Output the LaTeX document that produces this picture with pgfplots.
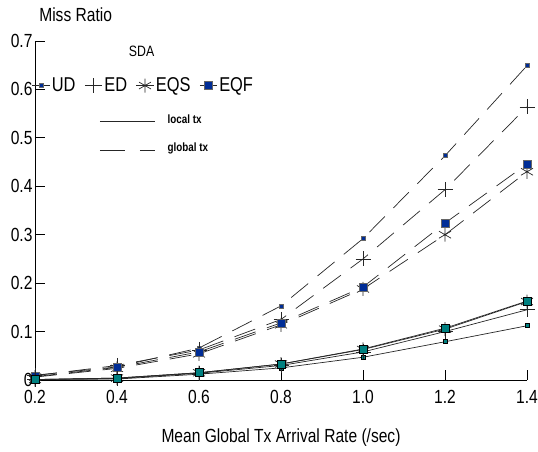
\documentclass[border=0pt]{standalone}
\usepackage{pgfplots}
\pgfplotsset{compat=1.18}
\usepackage{fontspec}
\setmainfont{Liberation Sans}[FakeStretch=0.82]
\definecolor{tealm}{RGB}{0,128,128}
\definecolor{bluem}{RGB}{0,45,150}
\begin{document}
\begin{tikzpicture}
\useasboundingbox (-35pt,-71pt) rectangle (503pt,380pt);
\begin{axis}[
  scale only axis, width=492pt, height=339pt,
  xmin=0.2, xmax=1.4, ymin=0, ymax=0.7,
  axis x line*=bottom, axis y line*=left,
  axis line style={line width=0.8pt, black},
  tick align=inside,
  major tick length=10pt,
  major tick style={line width=0.8pt, black},
  xtick={0.2,0.4,0.6,0.8,1.0,1.2,1.4},
  xticklabels={0.2,0.4,0.6,0.8,1.0,1.2,1.4},
  ytick={0,0.1,0.2,0.3,0.4,0.5,0.6,0.7},
  yticklabels={0,0.1,0.2,0.3,0.4,0.5,0.6,0.7},
  tick label style={font=\fontsize{19}{19}\selectfont},
  xticklabel style={yshift=-7pt},
  yticklabel style={xshift=1pt},
  clip=false,
  every axis plot/.append style={line width=0.7pt, black!85},
  legend columns=4,
  legend style={draw=none, fill=none, at={(axis cs:0.19,0.608)}, anchor=west,
    font=\fontsize{20}{20}\selectfont, column sep=0pt, inner xsep=1pt,
    /tikz/every even column/.append style={column sep=7pt}},
]
% global (dashed)
\addplot[dash pattern=on 22pt off 12pt, mark=square*, mark size=2pt, mark options={solid, fill=bluem, draw=black!60}] coordinates {(0.2,0.010)(0.4,0.027)(0.6,0.066)(0.8,0.153)(1.0,0.292)(1.2,0.463)(1.4,0.649)};
\addplot[dash pattern=on 22pt off 12pt, mark=+, mark size=7.5pt, mark options={solid}] coordinates {(0.2,0.009)(0.4,0.030)(0.6,0.062)(0.8,0.125)(1.0,0.250)(1.2,0.393)(1.4,0.564)};
\addplot[dash pattern=on 22pt off 12pt, mark=asterisk, mark size=7pt, mark options={solid}] coordinates {(0.2,0.006)(0.4,0.024)(0.6,0.054)(0.8,0.114)(1.0,0.188)(1.2,0.300)(1.4,0.430)};
\addplot[dash pattern=on 22pt off 12pt, mark=square*, mark size=4pt, mark options={solid, fill=bluem, draw=black!60}] coordinates {(0.2,0.007)(0.4,0.026)(0.6,0.058)(0.8,0.118)(1.0,0.192)(1.2,0.324)(1.4,0.446)};
% local (solid)
\addplot[mark=square*, mark size=2pt, mark options={fill=tealm, draw=black}] coordinates {(0.2,0.001)(0.4,0.002)(0.6,0.012)(0.8,0.025)(1.0,0.047)(1.2,0.079)(1.4,0.112)};
\addplot[mark=+, mark size=7.5pt] coordinates {(0.2,0.001)(0.4,0.003)(0.6,0.014)(0.8,0.030)(1.0,0.058)(1.2,0.100)(1.4,0.145)};
\addplot[mark=asterisk, mark size=7pt] coordinates {(0.2,0.001)(0.4,0.004)(0.6,0.015)(0.8,0.033)(1.0,0.063)(1.2,0.105)(1.4,0.162)};
\addplot[mark=square*, mark size=4pt, mark options={fill=tealm, draw=black}] coordinates {(0.2,0.001)(0.4,0.004)(0.6,0.015)(0.8,0.033)(1.0,0.064)(1.2,0.107)(1.4,0.163)};
% legend
\addlegendimage{legend image code/.code={\draw[line width=0.6pt,black!80] (0pt,0pt)--(10pt,0pt); \node[draw=black, fill=tealm, minimum size=3.5pt, inner sep=0pt, line width=0.4pt] at (5pt,1pt) {};}}
\addlegendentry{UD}
\addlegendimage{legend image code/.code={\draw[line width=0.6pt] (7pt,-7.5pt)--(7pt,7.5pt) (0pt,0pt)--(14pt,0pt);}}
\addlegendentry{ED}
\addlegendimage{legend image code/.code={\draw[line width=0.6pt] plot[mark=asterisk, mark size=7pt] coordinates {(7pt,0pt)};}}
\addlegendentry{EQS}
\addlegendimage{legend image code/.code={\draw[line width=0.6pt,black!80] (0pt,0pt)--(14pt,0pt); \node[draw=black!70, fill=tealm, minimum width=6pt, minimum height=8pt, inner sep=0pt, line width=0.4pt] at (7pt,1pt) {};}}
\addlegendentry{EQF}
\node[font=\fontsize{15}{15}\selectfont] at (axis cs:0.46,0.678) {SDA};
\draw[line width=0.6pt, black!85] (axis cs:0.3585,0.535) -- (axis cs:0.493,0.535);
\node[anchor=west, font=\bfseries\fontsize{12}{12}\selectfont] at (axis cs:0.515,0.538) {local tx};
\draw[line width=0.6pt, black!85, dash pattern=on 25pt off 15pt] (axis cs:0.3585,0.475) -- (axis cs:0.493,0.475);
\node[anchor=west, font=\bfseries\fontsize{12}{12}\selectfont] at (axis cs:0.515,0.478) {global tx};
\node[anchor=south west, font=\fontsize{19}{19}\selectfont, inner sep=0pt] at (axis cs:0.21,0.74) {Miss Ratio};
\node[font=\fontsize{19}{19}\selectfont] at (axis cs:0.8,-0.118) {Mean Global Tx Arrival Rate (/sec)};
\end{axis}
\end{tikzpicture}
\end{document}
